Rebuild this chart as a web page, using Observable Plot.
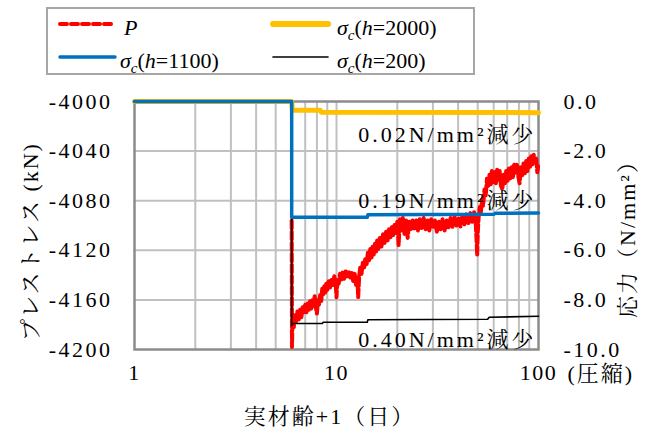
<!DOCTYPE html>
<html>
<head>
<meta charset="utf-8">
<script src="https://cdn.jsdelivr.net/npm/d3@7"></script>
<script src="https://cdn.jsdelivr.net/npm/@observablehq/plot@0.6"></script>
<style>
  body { margin: 0; background: #fff; }
  #wrap { position: relative; width: 645px; height: 430px; }
  #legend { position: absolute; left: 0; top: 0; }
</style>
</head>
<body>
<div id="wrap"><div id="chart"></div></div>
<script>
// ---- data ----
const xTicks = [1, 10, 100];
const xGrid = [2, 3, 4, 5, 6, 7, 8, 9, 10, 20, 30, 40, 50, 60, 70, 80, 90];
const pTicks = [-4200, -4160, -4120, -4080, -4040, -4000];
const sTicks = [-10, -8, -6, -4, -2, 0];

// P (kN), left axis: [age+1, value]
const seriesP = [
  [6.0,-4096],[6.02,-4198],[6.05,-4180],[6.1,-4172],[6.15,-4182],[6.2,-4174],[6.3,-4178],[6.4,-4169],
  [6.5,-4176],[6.6,-4168],[6.7,-4174],[6.8,-4166],[6.9,-4171],[7.0,-4164],[7.1,-4170],[7.2,-4163],
  [7.3,-4168],[7.4,-4161],[7.5,-4167],[7.6,-4160],[7.7,-4165],[7.8,-4157],[7.9,-4166],[8.0,-4171],
  [8.1,-4160],[8.2,-4164],[8.3,-4156],[8.4,-4161],[8.5,-4151],[8.6,-4156],[8.7,-4149],[8.8,-4154],
  [8.9,-4147],[9.0,-4152],[9.15,-4145],[9.3,-4150],[9.45,-4143],[9.6,-4148],[9.75,-4141],[9.9,-4146],
  [10.0,-4158],[10.1,-4143],[10.25,-4147],[10.4,-4139],[10.55,-4144],[10.7,-4138],[10.9,-4143],[11.1,-4136],
  [11.3,-4141],[11.5,-4137],[11.7,-4142],[11.9,-4138],[12.1,-4145],[12.3,-4139],[12.5,-4148],[12.7,-4142],
  [12.8,-4158],[12.95,-4141],[13.1,-4134],[13.3,-4139],[13.5,-4130],[13.7,-4135],[13.9,-4126],[14.1,-4131],
  [14.3,-4122],[14.5,-4128],[14.7,-4119],[14.9,-4126],[15.1,-4117],[15.3,-4124],[15.5,-4114],[15.7,-4121],
  [15.9,-4112],[16.1,-4119],[16.4,-4110],[16.7,-4117],[17.0,-4107],[17.3,-4114],[17.6,-4105],[17.9,-4112],
  [18.2,-4103],[18.5,-4110],[18.8,-4101],[19.1,-4108],[19.4,-4099],[19.7,-4106],[20.0,-4097],[20.3,-4116],
  [20.6,-4095],[20.9,-4104],[21.3,-4094],[21.7,-4107],[22.1,-4096],[22.5,-4110],[22.9,-4097],[23.3,-4104],
  [23.8,-4095],[24.3,-4103],[24.8,-4096],[25.3,-4104],[25.8,-4095],[26.4,-4102],[27.0,-4094],[27.6,-4103],
  [28.2,-4096],[28.8,-4104],[29.4,-4095],[30.0,-4102],[30.7,-4096],[31.4,-4105],[32.1,-4097],[32.8,-4103],
  [33.5,-4095],[34.3,-4104],[35.1,-4096],[35.9,-4102],[36.7,-4094],[37.5,-4101],[38.4,-4093],[39.3,-4100],
  [40.2,-4094],[41.1,-4101],[42.0,-4092],[43.0,-4099],[44.0,-4091],[45.0,-4098],[46.0,-4090],[47.0,-4097],
  [48.0,-4089],[48.8,-4095],[49.3,-4110],[49.7,-4124],[50.1,-4104],[50.6,-4092],[51.2,-4085],[51.8,-4090],
  [52.5,-4079],[53.2,-4084],[54.0,-4071],[54.8,-4076],[55.6,-4062],[56.4,-4068],[57.2,-4059],[58.0,-4067],
  [58.8,-4056],[59.7,-4065],[60.6,-4057],[61.5,-4066],[62.4,-4055],[63.3,-4063],[64.2,-4056],[65.2,-4068],
  [66.2,-4071],[67.2,-4059],[68.2,-4066],[69.2,-4056],[70.3,-4064],[71.4,-4054],[72.5,-4062],[73.6,-4053],
  [74.7,-4061],[75.8,-4051],[77.0,-4058],[78.2,-4050],[79.4,-4060],[80.6,-4066],[81.8,-4053],[83.0,-4060],
  [84.3,-4050],[85.6,-4058],[86.9,-4048],[88.2,-4056],[89.5,-4046],[90.8,-4053],[92.1,-4044],[93.4,-4051],
  [94.7,-4043],[96.0,-4049],[97.3,-4045],[98.6,-4057],[99.6,-4052]
];
// stresses (N/mm2), right axis
const seriesH2000 = [[1,0],[6,0],[6.05,-0.35],[8.3,-0.35],[8.4,-0.43],[100,-0.45]];
const seriesH1100 = [[1,0],[6,0],[6,-4.67],[14.2,-4.67],[14.3,-4.57],[60,-4.55],[61,-4.51],[100,-4.50]];
const seriesH200  = [[1,0],[6,0],[6,-9.03],[6.1,-8.95],[8.5,-8.95],[8.6,-8.9],[14.2,-8.9],[14.3,-8.8],[56,-8.78],[57,-8.7],[100,-8.66]];

const annotLabels = ["0.02N/mm²減少", "0.19N/mm²減少", "0.40N/mm²減少"];
const annotS = [-1.65, -4.31, -9.88];

const legendNames = ["P", "2000", "1100", "200"];
const legendColors = ["#ff0000", "#ffc000", "#0070c0", "#000000"];

// ---- helpers ----
const sToP = s => -4200 + (s + 10) * 20;
const pToS = p => (p + 4200) / 20 - 10;
const serif = "'Liberation Serif','Times New Roman',Tinos,'DejaVu Serif','Noto Serif CJK JP','Noto Sans CJK JP',serif";

const chart = Plot.plot({
  width: 645,
  height: 430,
  marginLeft: 134,
  marginRight: 107,
  marginTop: 101,
  marginBottom: 81,
  style: { fontFamily: serif, fontSize: "22px", color: "#000", background: "#fff" },
  x: { type: "log", domain: [1, 100] },
  y: { domain: [-4200, -4000] },
  marks: [
    Plot.gridX(xGrid, { stroke: "#c0c0c0", strokeOpacity: 1, strokeWidth: 2 }),
    Plot.gridY(pTicks.slice(1, -1), { stroke: "#c0c0c0", strokeOpacity: 1, strokeWidth: 2 }),
    Plot.frame({ stroke: "#8c8c8c", strokeWidth: 2.5 }),
    Plot.line(seriesP, { x: d => d[0], y: d => d[1], stroke: legendColors[0], strokeWidth: 4, strokeDasharray: "8,3" }),
    Plot.line(seriesH2000, { x: d => d[0], y: d => sToP(d[1]), stroke: legendColors[1], strokeWidth: 5 }),
    Plot.line(seriesH200, { x: d => d[0], y: d => sToP(d[1]), stroke: legendColors[3], strokeWidth: 1.6 }),
    Plot.line(seriesH1100, { x: d => d[0], y: d => sToP(d[1]), stroke: legendColors[2], strokeWidth: 3.5 }),
    Plot.text(annotLabels, { x: 100, y: (d, i) => sToP(annotS[i]), text: d => d, textAnchor: "end", lineAnchor: "bottom", dx: -2, fontSize: 22, fill: "#000" }),
    Plot.axisX(xTicks, { tickSize: 0, tickPadding: 15, tickFormat: d => String(d), label: null, fontSize: 22 }),
    Plot.axisY(pTicks, { anchor: "left", tickSize: 0, tickPadding: 22, tickFormat: d => String(d), label: null, fontSize: 22 }),
    Plot.axisY(sTicks.map(sToP), { anchor: "right", tickSize: 0, tickPadding: 25, tickFormat: d => pToS(d).toFixed(1), label: null, fontSize: 22 }),
    Plot.text(["プレストレス (kN)"], { frameAnchor: "left", dx: -104, dy: 16, rotate: -90, text: d => d, textAnchor: "middle", lineAnchor: "middle", fontSize: 22 }),
    Plot.text(["応力（N/mm²）"], { frameAnchor: "right", dx: 89, dy: 8, rotate: -90, text: d => d, textAnchor: "middle", lineAnchor: "middle", fontSize: 22 }),
    Plot.text(["(圧縮)"], { frameAnchor: "bottom-right", dx: 29, dy: 24, text: d => d, textAnchor: "start", lineAnchor: "middle", fontSize: 22 }),
    Plot.text(["実材齢+1（日）"], { frameAnchor: "bottom", dx: -7, dy: 74, text: d => d, textAnchor: "middle", lineAnchor: "bottom", fontSize: 22 })
  ]
});
document.getElementById("chart").appendChild(chart);

// letter spacing tweaks
d3.select(chart).selectAll('g[aria-label="x-axis tick label"] text').style("letter-spacing", "1.5px");
d3.select(chart).selectAll('g[aria-label="y-axis tick label"] text').style("letter-spacing", "2.5px");
d3.select(chart).selectAll('g[aria-label="text"] text').style("letter-spacing", "2px");
d3.select(chart).select('g[aria-label="text"]').selectAll("text").style("letter-spacing", "3px");

// ---- legend ----
const lg = d3.select("#wrap").append("svg").attr("id", "legend").attr("width", 645).attr("height", 80)
  .style("font-family", serif).style("font-size", "22px");
lg.append("rect").attr("x", 47).attr("y", 8).attr("width", 427).attr("height", 66)
  .attr("fill", "#fff").attr("stroke", "#a6a6a6").attr("stroke-width", 2);
const pos = [[60, 24], [273, 24], [60, 57], [273, 57]];
const widths = [4, 6, 3.5, 1.6];
legendNames.forEach((name, i) => {
  const [x0, y0] = pos[i];
  lg.append("line").attr("x1", x0).attr("x2", x0 + 55).attr("y1", y0).attr("y2", y0)
    .attr("stroke", legendColors[i]).attr("stroke-width", widths[i])
    .attr("stroke-linecap", "round")
    .attr("stroke-dasharray", i === 0 ? "7,4" : null);
  const t = lg.append("text").attr("x", x0 + (i === 2 ? 60 : 64)).attr("y", y0 + 11);
  if (i === 0) {
    t.append("tspan").attr("font-style", "italic").text("P");
  } else {
    t.append("tspan").attr("font-style", "italic").text("σ");
    t.append("tspan").attr("font-style", "italic").attr("font-size", 15).attr("dy", 5).text("c");
    t.append("tspan").attr("dy", -5).text("(");
    t.append("tspan").attr("font-style", "italic").text("h");
    t.append("tspan").text("=" + name + ")");
  }
});
</script>
</body>
</html>
